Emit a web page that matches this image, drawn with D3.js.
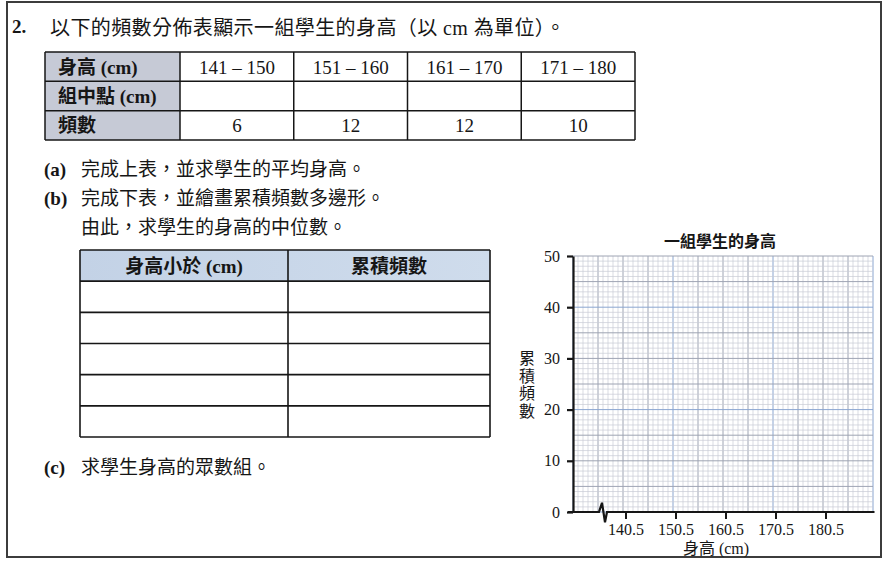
<!DOCTYPE html>
<html>
<head>
<meta charset="utf-8">
<script src="https://cdn.jsdelivr.net/npm/d3@7"></script>
<style>
  body { margin: 0; background: #fff; }
  svg { display: block; }
</style>
</head>
<body>
<div id="chart"></div>
<script>
// Frequency table (top)
var classes = ["141 – 150", "151 – 160", "161 – 170", "171 – 180"];
var rowLabels = ["身高 (cm)", "組中點 (cm)", "頻數"];
var frequencies = [6, 12, 12, 10];

// Cumulative frequency table (left, to be filled in)
var cumHeaders = ["身高小於 (cm)", "累積頻數"];
var cumBlankRows = ["", "", "", "", ""];

// Graph paper for the cumulative frequency polygon
var chartTitle = "一組學生的身高";
var xTicks = [140.5, 150.5, 160.5, 170.5, 180.5];
var yTicks = [0, 10, 20, 30, 40, 50];
var xTitle = "身高 (cm)";
var yTitle = "累積頻數";

var W = 883, H = 563,
    FONT = '"Liberation Serif", "Noto Sans CJK TC", serif',
    INK = "#161616";

var svg = d3.select("#chart").append("svg")
    .attr("width", W)
    .attr("height", H)
    .style("font-family", FONT);

// page frame
svg.append("rect")
    .attr("x", 7).attr("y", 2)
    .attr("width", 874).attr("height", 555)
    .attr("fill", "none")
    .attr("stroke", "#3c3c3c")
    .attr("stroke-width", 2);

// question text
svg.append("text")
    .attr("x", 12).attr("y", 33)
    .attr("font-size", 19).attr("font-weight", "bold").attr("fill", INK)
    .text("2.");
svg.append("text")
    .attr("x", 50).attr("y", 35)
    .attr("font-size", 20).attr("letter-spacing", 0.4).attr("fill", INK)
    .text("以下的頻數分佈表顯示一組學生的身高（以 cm 為單位）。");

/* ---------- table 1 ---------- */
var t1x = d3.scaleBand().domain(classes).range([180, 635]),
    t1y = d3.scaleBand().domain(rowLabels).range([52, 140]);

var t1 = svg.append("g").attr("class", "table1");

t1.append("rect")
    .attr("x", 45).attr("y", t1y.range()[0])
    .attr("width", t1x.range()[0] - 45)
    .attr("height", t1y.range()[1] - t1y.range()[0])
    .attr("fill", "#c6cad6");

// horizontal rules
t1.selectAll(".hrule")
    .data(rowLabels.map(function(d) { return t1y(d); }).concat([t1y.range()[1]]))
  .enter().append("line")
    .attr("x1", 45).attr("x2", t1x.range()[1])
    .attr("y1", function(d) { return d; }).attr("y2", function(d) { return d; })
    .attr("stroke", INK).attr("stroke-width", 1.5);

// vertical rules
t1.selectAll(".vrule")
    .data([45].concat(classes.map(function(d) { return t1x(d); })).concat([t1x.range()[1]]))
  .enter().append("line")
    .attr("x1", function(d) { return d; }).attr("x2", function(d) { return d; })
    .attr("y1", t1y.range()[0]).attr("y2", t1y.range()[1])
    .attr("stroke", INK).attr("stroke-width", 1.5);

t1.selectAll(".rowlabel")
    .data(rowLabels)
  .enter().append("text")
    .attr("x", 58)
    .attr("y", function(d) { return t1y(d) + t1y.bandwidth() / 2 + 7; })
    .attr("font-size", 19).attr("font-weight", "bold").attr("fill", INK)
    .text(function(d) { return d; });

t1.selectAll(".classlabel")
    .data(classes)
  .enter().append("text")
    .attr("x", function(d) { return t1x(d) + t1x.bandwidth() / 2; })
    .attr("y", t1y(rowLabels[0]) + t1y.bandwidth() / 2 + 7)
    .attr("text-anchor", "middle")
    .attr("font-size", 19).attr("fill", INK)
    .text(function(d) { return d; });

t1.selectAll(".freq")
    .data(frequencies)
  .enter().append("text")
    .attr("x", function(d, i) { return t1x(classes[i]) + t1x.bandwidth() / 2; })
    .attr("y", t1y(rowLabels[2]) + t1y.bandwidth() / 2 + 7)
    .attr("text-anchor", "middle")
    .attr("font-size", 19).attr("fill", INK)
    .text(function(d) { return d; });

// parts (a), (b), (c)
var parts = [
  {tag: "(a)", text: "完成上表，並求學生的平均身高。", y: 176},
  {tag: "(b)", text: "完成下表，並繪畫累積頻數多邊形。", y: 205},
  {tag: "", text: "由此，求學生的身高的中位數。", y: 234},
  {tag: "(c)", text: "求學生身高的眾數組。", y: 474}
];
parts.forEach(function(p) {
  svg.append("text")
      .attr("x", 44).attr("y", p.y)
      .attr("font-size", 19).attr("font-weight", "bold").attr("fill", INK)
      .text(p.tag);
  svg.append("text")
      .attr("x", 81).attr("y", p.y)
      .attr("font-size", 19).attr("fill", INK)
      .text(p.text);
});

/* ---------- table 2 ---------- */
var t2x = d3.scaleBand().domain(cumHeaders).range([80, 490]),
    t2rows = ["head"].concat(cumBlankRows.map(function(d, i) { return "r" + i; })),
    t2y = d3.scaleBand().domain(t2rows).range([250, 437]);

var t2 = svg.append("g").attr("class", "table2");

var grad = svg.append("defs").append("linearGradient")
    .attr("id", "headFill").attr("x1", 0).attr("x2", 1);
grad.append("stop").attr("offset", 0).attr("stop-color", "#c3d2e6");
grad.append("stop").attr("offset", 1).attr("stop-color", "#cfdcec");

t2.append("rect")
    .attr("x", 80).attr("y", t2y("head"))
    .attr("width", 410).attr("height", t2y.bandwidth())
    .attr("fill", "url(#headFill)");

t2.selectAll(".hrule")
    .data(t2rows.map(function(d) { return t2y(d); }).concat([t2y.range()[1]]))
  .enter().append("line")
    .attr("x1", 80).attr("x2", 490)
    .attr("y1", function(d) { return d; }).attr("y2", function(d) { return d; })
    .attr("stroke", INK).attr("stroke-width", 1.6);

t2.selectAll(".vrule")
    .data([80, 288, 490])
  .enter().append("line")
    .attr("x1", function(d) { return d; }).attr("x2", function(d) { return d; })
    .attr("y1", 250).attr("y2", 437)
    .attr("stroke", INK).attr("stroke-width", 1.6);

t2.selectAll(".head")
    .data(cumHeaders)
  .enter().append("text")
    .attr("x", function(d, i) { return i === 0 ? 184 : 389; })
    .attr("y", t2y("head") + t2y.bandwidth() / 2 + 7)
    .attr("text-anchor", "middle")
    .attr("font-size", 19).attr("font-weight", "bold").attr("fill", INK)
    .text(function(d) { return d; });

/* ---------- graph paper ---------- */
var x = d3.scaleLinear().domain([130, 190]).range([573, 873]),
    y = d3.scaleLinear().domain([0, 50]).range([512, 256]);

// three weights of ruling: every unit, every 5 units, every 20 units (blue)
var MINOR = "#c9ccd6", MID = "#9ea4b3", MAJOR = "#8aa5d0";
function gridColorX(v) { return v % 20 === 10 ? MAJOR : (v % 5 === 0 ? MID : MINOR); }
function gridColorY(v) { return v % 20 === 0 ? MAJOR : (v % 5 === 0 ? MID : MINOR); }
function rank(c) { return c === MINOR ? 0 : (c === MID ? 1 : 2); }

var grid = svg.append("g").attr("class", "grid");
var xs = d3.range(130, 191), ys = d3.range(0, 51);

// faint lines first, heavier ones drawn on top
grid.selectAll(".gx")
    .data(xs.slice().sort(function(a, b) { return rank(gridColorX(a)) - rank(gridColorX(b)); }))
  .enter().append("line")
    .attr("x1", function(d) { return x(d); }).attr("x2", function(d) { return x(d); })
    .attr("y1", y(0)).attr("y2", y(50))
    .attr("stroke", gridColorX)
    .attr("stroke-width", function(d) { return rank(gridColorX(d)) === 0 ? 0.7 : 1; });

grid.selectAll(".gy")
    .data(ys.slice().sort(function(a, b) { return rank(gridColorY(a)) - rank(gridColorY(b)); }))
  .enter().append("line")
    .attr("x1", x(130)).attr("x2", x(190))
    .attr("y1", function(d) { return y(d); }).attr("y2", function(d) { return y(d); })
    .attr("stroke", gridColorY)
    .attr("stroke-width", function(d) { return rank(gridColorY(d)) === 0 ? 0.7 : 1; });

// y axis
var yAxis = svg.append("g")
    .attr("transform", "translate(" + x(130) + ",0)")
    .call(d3.axisLeft(y).tickValues(yTicks).tickSize(6).tickPadding(7).tickSizeOuter(0));
yAxis.selectAll("path, line").attr("stroke", INK).attr("stroke-width", 2.2);
yAxis.selectAll("text")
    .attr("font-family", FONT).attr("font-size", 16).attr("fill", INK);

// x axis with a break near the origin
var xAxis = svg.append("g")
    .attr("transform", "translate(0," + y(0) + ")")
    .call(d3.axisBottom(x).tickValues(xTicks).tickFormat(d3.format(".1f"))
      .tickSize(7).tickPadding(5));
xAxis.select(".domain").remove();
xAxis.selectAll("line").attr("stroke", INK).attr("stroke-width", 2);
xAxis.selectAll("text")
    .attr("font-family", FONT).attr("font-size", 16).attr("fill", INK);

var breakPts = [[129, 0], [135.2, 0], [135.8, 1.8], [136.4, -2], [136.8, 0], [190.3, 0]];
svg.append("path")
    .attr("d", d3.line().x(function(d) { return x(d[0]); }).y(function(d) { return y(d[1]); })(breakPts))
    .attr("fill", "none")
    .attr("stroke", INK)
    .attr("stroke-width", 2.2)
    .attr("stroke-linejoin", "miter");

// titles
svg.append("text")
    .attr("x", 720).attr("y", 247)
    .attr("text-anchor", "middle")
    .attr("font-size", 16).attr("font-weight", "bold").attr("fill", INK)
    .text(chartTitle);

svg.append("text")
    .attr("x", 716).attr("y", 554)
    .attr("text-anchor", "middle")
    .attr("font-size", 16).attr("fill", INK)
    .text(xTitle);

svg.selectAll(".ytitle")
    .data(yTitle.split(""))
  .enter().append("text")
    .attr("x", 527)
    .attr("y", function(d, i) { return 364 + i * 17.5; })
    .attr("text-anchor", "middle")
    .attr("font-size", 16).attr("fill", INK)
    .text(function(d) { return d; });
</script>
</body>
</html>
